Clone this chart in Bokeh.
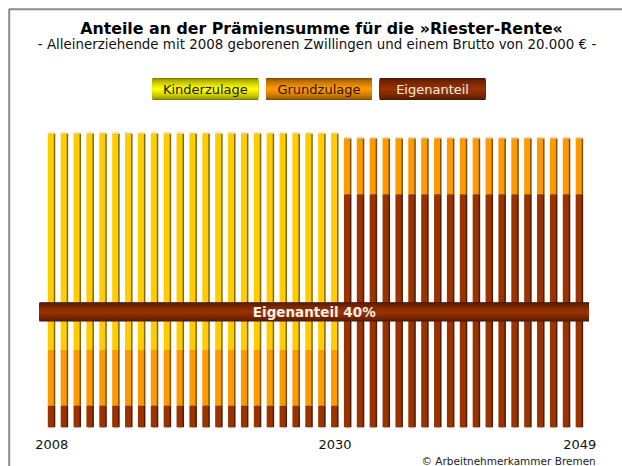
import numpy as np
from bokeh.plotting import figure
from bokeh.models import Range1d, ColumnDataSource
from bokeh.transform import dodge
from bokeh.core.properties import value
from bokeh.embed import file_html
from bokeh.resources import INLINE

# ---------------- data ----------------
years = [2008, 2009, 2010, 2011, 2012, 2013, 2014, 2015, 2016, 2017, 2018,
         2019, 2020, 2021, 2022, 2023, 2024, 2025, 2026, 2027, 2028, 2029,
         2030, 2031, 2032, 2033, 2034, 2035, 2036, 2037, 2038, 2039, 2040,
         2041, 2042, 2043, 2044, 2045, 2046, 2047, 2048, 2049]
eigenanteil = [60, 60, 60, 60, 60, 60, 60, 60, 60, 60, 60,
               60, 60, 60, 60, 60, 60, 60, 60, 60, 60, 60,
               60, 646, 646, 646, 646, 646, 646, 646, 646, 646, 646,
               646, 646, 646, 646, 646, 646, 646, 646, 646]
grundzulage = [154, 154, 154, 154, 154, 154, 154, 154, 154, 154, 154,
               154, 154, 154, 154, 154, 154, 154, 154, 154, 154, 154,
               154, 154, 154, 154, 154, 154, 154, 154, 154, 154, 154,
               154, 154, 154, 154, 154, 154, 154, 154, 154]
kinderzulage = [600, 600, 600, 600, 600, 600, 600, 600, 600, 600, 600,
                600, 600, 600, 600, 600, 600, 600, 600, 600, 600, 600,
                600, 0, 0, 0, 0, 0, 0, 0, 0, 0, 0,
                0, 0, 0, 0, 0, 0, 0, 0, 0]
series_names = ["Kinderzulage", "Grundzulage", "Eigenanteil"]
tick_years = [2008, 2030, 2049]
tick_labels = ["2008", "2030", "2049"]
band_label = "Eigenanteil 40%"
band_value = 320  # 40 % of the 800 EUR contribution basis

title_text = "Anteile an der Prämiensumme für die »Riester-Rente«"
subtitle_text = "- Alleinerziehende mit 2008 geborenen Zwillingen und einem Brutto von 20.000 € -"
credit_text = "© Arbeitnehmerkammer Bremen"

# ---------------- geometry (pixel layout) ----------------
W, H = 622, 466
X0_PX = 50.3      # pixel centre of first bar
DX = 12.875       # pixels per year
Y0_PX = 426.7     # pixel of value 0
KY = 0.36044      # pixels per euro

x_start = years[0] - X0_PX / DX
x_end = years[0] + (W - X0_PX) / DX
y_start = -(H - Y0_PX) / KY
y_end = Y0_PX / KY


def px2x(px):
    return x_start + px / DX


def px2y(py):
    return (Y0_PX - py) / KY


def hex2rgb(h):
    h = h.lstrip("#")
    return tuple(int(h[i:i + 2], 16) for i in (0, 2, 4))


def mix(c1, c2, t):
    a, b = hex2rgb(c1), hex2rgb(c2)
    return "#%02x%02x%02x" % tuple(int(round(a[i] + (b[i] - a[i]) * t)) for i in range(3))


def nested_gradient(top_px, bot_px, edge, center, n=16, power=0.6):
    """Nested bands: outermost = edge colour, innermost = centre colour."""
    c = (top_px + bot_px) / 2
    half = (bot_px - top_px) / 2
    tops, bots, cols = [], [], []
    for i in range(n):
        h = half * (1 - i / n)
        tops.append(px2y(c - h))
        bots.append(px2y(c + h))
        cols.append(mix(edge, center, (i / (n - 1)) ** power))
    return tops, bots, cols


p = figure(width=W, height=H, x_range=Range1d(x_start, x_end), y_range=Range1d(y_start, y_end),
           x_axis_type=None, y_axis_type=None, toolbar_location=None, output_backend="svg",
           min_border=0, outline_line_color=None, background_fill_color="white",
           border_fill_color="white")
p.grid.visible = False

# ---------------- frame line ----------------
p.line(x=[px2x(8.7), px2x(8.7), px2x(640)], y=[px2y(480), px2y(8.7), px2y(8.7)],
       line_color="#8a8a8a", line_width=2)

# ---------------- bars ----------------
e = np.array(eigenanteil, float)
g = np.array(grundzulage, float)
k = np.array(kinderzulage, float)
tot = e + g + k
cap_col = ["#e9d27e" if kk > 0 else "#e3b15e" for kk in k]
src = ColumnDataSource(dict(year=years, e_bot=np.zeros_like(e), e_top=e, g_bot=e, g_top=e + g,
                            k_bot=e + g, k_top=tot, cap_bot=tot, cap_top=tot + 1.3 / KY,
                            cap_col=cap_col))
BAR_W = 6.0 / DX
shift = dodge("year", 1.5 / DX, range=p.x_range)
capx = dodge("year", 0.75 / DX, range=p.x_range)
segments = [("e_bot", "e_top", "#993300", "#4f1a00"),
            ("g_bot", "g_top", "#ff9900", "#7d5200"),
            ("k_bot", "k_top", "#ffcc00", "#7f6a10")]
for b, t, face, shade in segments:
    p.vbar(x=shift, bottom=b, top=t, width=BAR_W, source=src, fill_color=shade, line_color=None)
    p.vbar(x="year", bottom=b, top=t, width=BAR_W, source=src, fill_color=face, line_color=None)
p.vbar(x=capx, bottom="cap_bot", top="cap_top", width=7.5 / DX, source=src,
       fill_color="cap_col", line_color=None)

# ---------------- 40 % band ----------------
band_c = Y0_PX - band_value * KY
band_left = years[0] - (X0_PX - 39) / DX
band_right = years[-1] + 10.3 / DX
bt, bb, bc = nested_gradient(band_c - 9.7, band_c + 9.7, "#451500", "#9a3300", n=18)
p.quad(left=band_left, right=band_right, top=bt, bottom=bb, fill_color=bc, line_color=None)
p.text(x=[(band_left + band_right) / 2], y=[band_value],
       text=[band_label], text_font=value("DejaVu Sans"), text_font_size=value("13.5px"),
       text_font_style="bold", text_color="#f4eee8", text_align="center",
       text_baseline="middle")

# ---------------- x labels ----------------
p.text(x=tick_years, y=[px2y(444)] * len(tick_years), text=tick_labels, x_offset=1,
       text_font=value("DejaVu Sans"), text_font_size=value("13px"), text_color="#111111",
       text_align="center", text_baseline="alphabetic")

# ---------------- titles ----------------
p.text(x=[px2x(321)], y=[px2y(28.3)], text=[title_text], text_font=value("DejaVu Sans"),
       text_font_size=value("15.8px"), text_font_style="bold", text_color="#000000",
       text_align="center", text_baseline="alphabetic")
p.text(x=[px2x(316.5)], y=[px2y(44.3)], text=[subtitle_text], text_font=value("DejaVu Sans"),
       text_font_size=value("13.4px"), text_color="#111111",
       text_align="center", text_baseline="alphabetic")

# ---------------- legend ----------------
leg_edges = ["#7a7a00", "#7d4a00", "#4a1700"]
leg_centers = ["#ffff00", "#ff9900", "#993300"]
leg_text_col = ["#1a1a00", "#2a1500", "#f2ece6"]
for i, name in enumerate(series_names):
    lx = 152 + i * 113.6
    lt, lb, lc = nested_gradient(77.5, 99.5, leg_edges[i], leg_centers[i], n=16)
    p.quad(left=px2x(lx), right=px2x(lx + 105.7), top=lt, bottom=lb, fill_color=lc, line_color=None)
    p.text(x=[px2x(lx + 52.85)], y=[px2y(88.7)], text=[name], text_font=value("DejaVu Sans"),
           text_font_size=value("13px"), text_color=leg_text_col[i], text_align="center",
           text_baseline="middle")

# ---------------- credit ----------------
p.text(x=[px2x(421)], y=[px2y(460)], text=[credit_text], text_font=value("DejaVu Sans"),
       text_font_size=value("10.5px"), text_color="#222222", text_align="left",
       text_baseline="alphabetic")

open("out.html", "w").write(file_html(p, INLINE))
